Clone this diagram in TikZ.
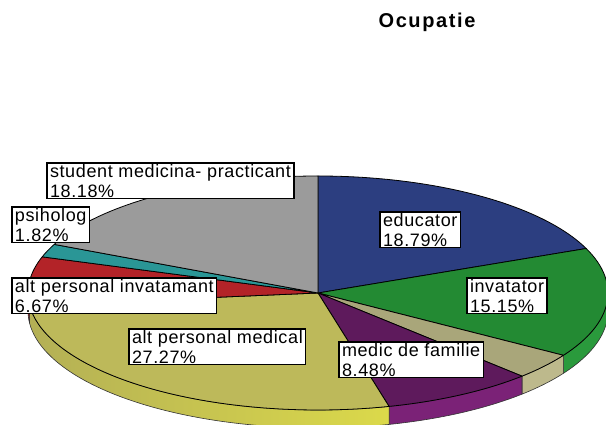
\documentclass[tikz,border=0pt]{standalone}
\usepackage{fontspec}
\setmainfont{Liberation Sans}
\usetikzlibrary{positioning}
\definecolor{cblue}{HTML}{2C3E80}
\definecolor{cgreen}{HTML}{238A33}
\definecolor{ctan}{HTML}{A9A67A}
\definecolor{cpurple}{HTML}{5E1A5C}
\definecolor{cyellow}{HTML}{BDB95A}
\definecolor{cred}{HTML}{B32328}
\definecolor{cteal}{HTML}{2A9696}
\definecolor{cgrey}{HTML}{9B9B9B}
\definecolor{cgreenside}{HTML}{2A9A3C}
\definecolor{ctanside}{HTML}{BDB98C}
\definecolor{cpurpleside}{HTML}{7B2277}
\definecolor{credside}{HTML}{9E1F24}
\tikzset{
  every picture/.style={x=1pt, y=1pt},
  slice/.style={draw=black, line width=0.8pt, line join=round},
  side/.style={draw=black!80, line width=0.6pt, line join=round},
  yside/.style={left color=cyellow!95!black, right color=cyellow!60!yellow!90!white},
  gside/.style={fill=cgreenside},
  tside/.style={fill=ctanside},
  pside/.style={fill=cpurpleside},
  rside/.style={fill=credside},
  lbl/.style={draw=black, line width=1.3pt, fill=white, align=left, anchor=north west,
              inner xsep=3pt, inner ysep=1.5pt, outer sep=0pt,
              font=\fontsize{18}{19.5}\selectfont\addfontfeature{LetterSpace=3.5}},
  title/.style={font=\fontsize{20}{22}\bfseries\selectfont\addfontfeature{LetterSpace=8}},
}
\begin{document}
\begin{tikzpicture}
  \useasboundingbox (0,0) rectangle (606,425);
  \clip (0,0) rectangle (606,425);
  \begin{scope}[shift={(318,132)}]
    \foreach \a/\b/\s in {0/-32.184/gside, -32.184/-45.288/tside, -45.288/-75.816/pside,
                          -75.816/-173.988/yside, -173.988/-180/rside}
      \draw[side, \s] (\a:290 and 117) arc[start angle=\a, end angle=\b, x radius=290, y radius=117]
        -- ++(0,-18) arc[start angle=\b, end angle=\a, x radius=290, y radius=117] -- cycle;
    \foreach \a/\b/\c in {90/22.356/cblue, 22.356/-32.184/cgreen, -32.184/-45.288/ctan,
                          -45.288/-75.816/cpurple, -75.816/-173.988/cyellow,
                          -173.988/-198/cred, -198/-204.552/cteal, -204.552/-270/cgrey}
      \filldraw[slice, fill=\c] (0,0) -- (\a:290 and 117)
        arc[start angle=\a, end angle=\b, x radius=290, y radius=117] -- cycle;
  \end{scope}
  \node[title] (ttl) at (427,403) {Ocupatie};
  \node[lbl] (lstud) at (47,262) {student medicina- practicant\\18.18\%};
  \node[lbl] (lpsih) at (12,218) {psiholog\\1.82\%};
  \node[lbl] (linv) at (12,147) {alt personal invatamant\\6.67\%};
  \node[lbl] (lmed) at (129,96) {alt personal medical\\27.27\%};
  \node[lbl] (lfam) at (339,83) {medic de familie\\8.48\%};
  \node[lbl] (linvt) at (467,147) {invatator\\15.15\%};
  \node[lbl] (ledu) at (380,213) {educator\\18.79\%};
\end{tikzpicture}
\end{document}
